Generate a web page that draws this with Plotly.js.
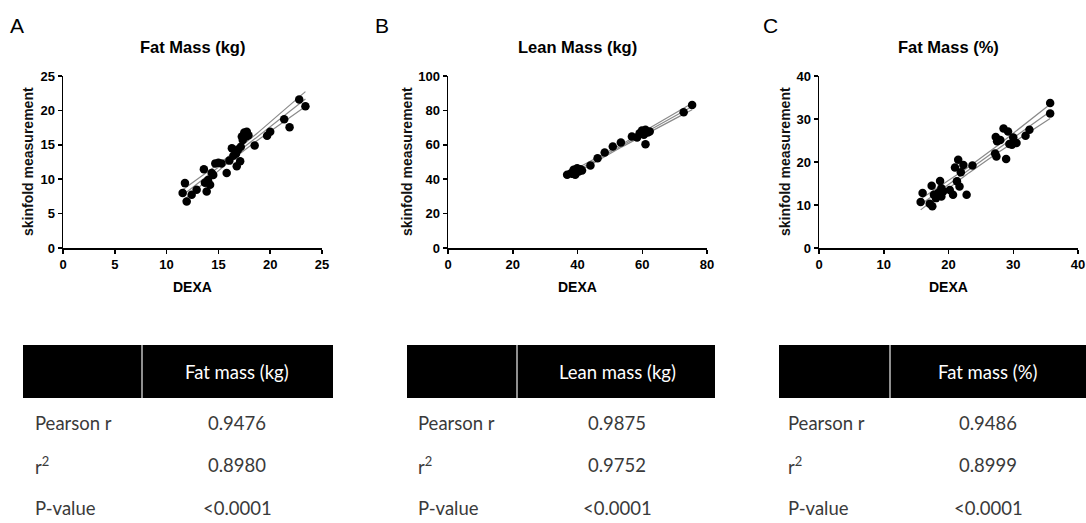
<!DOCTYPE html>
<html>
<head>
<meta charset="utf-8">
<script src="https://cdn.plot.ly/plotly-3.0.1.min.js"></script>
<style>html,body{margin:0;padding:0;background:#fff;}#chart{width:1086px;height:523px;}</style>
</head>
<body>
<div id="chart"></div>
<script>
// ---- Panel A: Fat Mass (kg) ----
const fatKgDexa = [11.55,11.77,11.94,12.42,12.9,13.6,13.7,13.87,14.0,14.2,14.35,14.5,14.7,15.0,15.3,15.8,16.06,16.3,16.45,16.7,16.77,16.9,17.1,17.16,17.26,17.35,17.58,17.74,17.68,17.9,17.5,17.6,18.5,19.7,20.0,21.35,21.87,22.8,23.4];
const fatKgSkin = [7.98,9.43,6.77,7.74,8.46,11.46,9.5,8.2,9.9,9.2,10.9,10.6,12.3,12.4,12.3,10.9,12.7,14.5,13.4,13.7,11.9,14.3,12.6,14.7,16.2,15.7,16.7,16.9,16.2,16.4,16.8,16.5,14.9,16.3,16.9,18.7,17.55,21.6,20.6];
// ---- Panel B: Lean Mass (kg) ----
const leanDexa = [36.8,38.0,38.8,39.3,39.9,40.4,40.9,41.4,39.6,38.6,44.0,46.2,48.4,50.9,53.4,56.8,58.4,59.2,59.9,61.0,61.7,61.0,62.3,60.5,72.8,75.4];
const leanSkin = [42.6,43.5,45.5,42.6,46.4,44.5,45.8,45.1,43.9,43.1,48.0,52.2,55.5,59.0,61.3,64.8,64.2,66.7,68.3,68.7,67.1,60.3,67.7,65.8,78.9,83.2];
// ---- Panel C: Fat Mass (%) ----
const fatPctDexa = [15.7,16.0,17.1,17.4,17.5,17.75,18.06,18.4,18.7,18.9,19.2,18.9,20.2,20.7,21.0,21.3,21.5,21.7,21.9,22.3,22.8,23.7,27.2,27.4,27.3,27.5,28.0,28.5,28.9,29.2,29.4,29.8,30.0,30.5,31.9,32.5,35.7,35.7];
const fatPctSkin = [10.7,12.8,10.3,14.5,9.7,12.4,11.6,12.8,15.6,12.0,13.2,13.9,13.5,12.4,18.7,15.5,20.5,14.3,17.6,19.3,12.4,19.2,22.0,21.3,25.8,24.8,25.1,27.8,20.7,27.1,24.2,24.0,25.7,24.4,26.1,27.5,33.7,31.3];

const panelTitles = ["Fat Mass (kg)", "Lean Mass (kg)", "Fat Mass (%)"];
const panelLetters = ["A", "B", "C"];
const xMax = [25, 80, 40];
const yMax = [25, 100, 40];
const xDtick = [5, 20, 10];
const yDtick = [5, 20, 10];

// ---- Tables ----
const tableHeaders = ["Fat mass (kg)", "Lean mass (kg)", "Fat mass (%)"];
const rowLabels = ["Pearson r", "r<sup>2</sup>", "P-value"];
const pearsonR = ["0.9476", "0.9875", "0.9486"];
const rSquared = ["0.8980", "0.9752", "0.8999"];
const pValues = ["<0.0001", "<0.0001", "<0.0001"];

const W = 1086, H = 523;
const px = v => v / W;
const py = v => 1 - v / H;

const plotLeft = [63, 448, 819];
const plotRight = [322, 707, 1078];
const plotTop = 76, plotBottom = 248;

const datasets = [[fatKgDexa, fatKgSkin], [leanDexa, leanSkin], [fatPctDexa, fatPctSkin]];

function regression(x, y) {
  const n = x.length;
  const mx = x.reduce((a, b) => a + b, 0) / n;
  const my = y.reduce((a, b) => a + b, 0) / n;
  let sxx = 0, sxy = 0;
  for (let i = 0; i < n; i++) { sxx += (x[i] - mx) ** 2; sxy += (x[i] - mx) * (y[i] - my); }
  const b = sxy / sxx, a = my - b * mx;
  let sse = 0;
  for (let i = 0; i < n; i++) sse += (y[i] - a - b * x[i]) ** 2;
  const s = Math.sqrt(sse / (n - 2));
  const t = 2.03;
  const xmin = Math.min(...x), xmax = Math.max(...x);
  const gx = [], fit = [], lo = [], hi = [];
  for (let k = 0; k <= 40; k++) {
    const xv = xmin + (xmax - xmin) * k / 40;
    const yv = a + b * xv;
    const se = s * Math.sqrt(1 / n + (xv - mx) ** 2 / sxx);
    gx.push(xv); fit.push(yv); lo.push(yv - t * se); hi.push(yv + t * se);
  }
  return { gx, fit, lo, hi };
}

const traces = [];
const layout = {
  width: W, height: H,
  margin: { l: 0, r: 0, t: 0, b: 0 },
  paper_bgcolor: "#fff", plot_bgcolor: "#fff",
  showlegend: false,
  font: { family: "Liberation Sans, Arial, sans-serif", color: "#000" },
  annotations: [], shapes: []
};

const tickFont = { family: "Liberation Sans, Arial, sans-serif", size: 13, weight: "bold", color: "#000" };

for (let p = 0; p < 3; p++) {
  const sfx = p === 0 ? "" : String(p + 1);
  const xa = "x" + sfx, ya = "y" + sfx;
  const [dx, dy] = datasets[p];
  const r = regression(dx, dy);
  const lineStyle = { color: "#8a8a8a", width: 1.2 };
  [r.lo, r.hi, r.fit].forEach(arr => {
    traces.push({ x: r.gx, y: arr, xaxis: xa, yaxis: ya, mode: "lines", line: lineStyle, hoverinfo: "skip", cliponaxis: false });
  });
  traces.push({ x: dx, y: dy, xaxis: xa, yaxis: ya, mode: "markers", marker: { color: "#000", size: 8.5 }, cliponaxis: false });

  layout["xaxis" + sfx] = {
    domain: [px(plotLeft[p]), px(plotRight[p])], anchor: ya,
    range: [0, xMax[p]], dtick: xDtick[p], tick0: 0,
    showline: true, linecolor: "#000", linewidth: 1.5,
    ticks: "outside", ticklen: 4, tickwidth: 1.5, tickcolor: "#000",
    showgrid: false, zeroline: false, tickfont: tickFont, fixedrange: true
  };
  layout["yaxis" + sfx] = {
    domain: [py(plotBottom), py(plotTop)], anchor: xa,
    range: [0, yMax[p]], dtick: yDtick[p], tick0: 0,
    showline: true, linecolor: "#000", linewidth: 1.5,
    ticks: "outside", ticklen: 4, tickwidth: 1.5, tickcolor: "#000",
    showgrid: false, zeroline: false, tickfont: tickFont, fixedrange: true
  };

  const cx = (plotLeft[p] + plotRight[p]) / 2;
  layout.annotations.push({ xref: "paper", yref: "paper", x: px([17, 382, 770][p]), y: py(25), text: panelLetters[p], showarrow: false, xanchor: "center", yanchor: "middle", font: { family: "Liberation Sans, Arial, sans-serif", size: 21, color: "#000" } });
  layout.annotations.push({ xref: "paper", yref: "paper", x: px(cx), y: py(47), text: panelTitles[p], showarrow: false, xanchor: "center", yanchor: "middle", font: { family: "Liberation Sans, Arial, sans-serif", size: 16.5, weight: "bold", color: "#000" } });
  layout.annotations.push({ xref: "paper", yref: "paper", x: px(cx), y: py(287), text: "DEXA", showarrow: false, xanchor: "center", yanchor: "middle", font: { family: "Liberation Sans, Arial, sans-serif", size: 14, weight: "bold", color: "#000" } });
  layout.annotations.push({ xref: "paper", yref: "paper", x: px([28, 407, 785][p]), y: py(162), text: "skinfold measurement", textangle: -90, showarrow: false, xanchor: "center", yanchor: "middle", font: { family: "Liberation Sans, Arial, sans-serif", size: 14, weight: "bold", color: "#111" } });

  const tL = [23, 407, 779][p], tR = [333, 715, 1086][p], tD = [142, 517, 890][p];
  const valC = [237, 617, 988][p];
  layout.shapes.push({ type: "rect", xref: "paper", yref: "paper", x0: px(tL), x1: px(tR), y0: py(398), y1: py(345), fillcolor: "#000", line: { width: 0 }, layer: "above" });
  layout.shapes.push({ type: "line", xref: "paper", yref: "paper", x0: px(tD), x1: px(tD), y0: py(398), y1: py(345), line: { color: "#bfbfbf", width: 1.5 }, layer: "above" });
  const tFont = { family: "Lato, Open Sans, sans-serif", size: 18.5, color: "#3a3a3a" };
  layout.annotations.push({ xref: "paper", yref: "paper", x: px(valC), y: py(372), text: tableHeaders[p], showarrow: false, xanchor: "center", yanchor: "middle", font: { family: "Lato, Open Sans, sans-serif", size: 18.5, color: "#fff" } });
  const vals = [pearsonR[p], rSquared[p], pValues[p].replace("<", "&lt;")];
  const rowY = [423, 465, 508];
  for (let k = 0; k < 3; k++) {
    layout.annotations.push({ xref: "paper", yref: "paper", x: px([33, 416, 786][p]), y: py(rowY[k]), text: rowLabels[k], showarrow: false, xanchor: "left", yanchor: "middle", font: tFont });
    layout.annotations.push({ xref: "paper", yref: "paper", x: px(valC), y: py(rowY[k]), text: vals[k], showarrow: false, xanchor: "center", yanchor: "middle", font: tFont });
  }
}

Plotly.newPlot("chart", traces, layout, { displayModeBar: false, staticPlot: true });
</script>
</body>
</html>
